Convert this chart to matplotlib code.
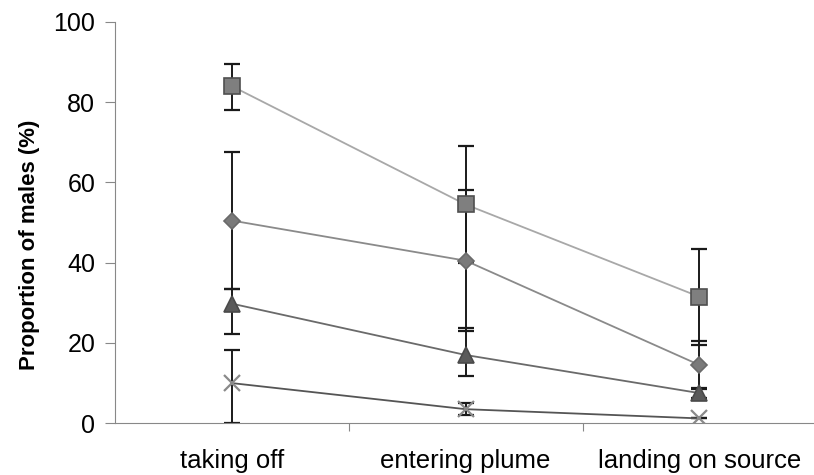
import numpy as np
import matplotlib.pyplot as plt

plt.rcParams['font.family'] = ['Liberation Sans', 'DejaVu Sans']

# flight stages and response proportions per treatment
stages = ['taking off', 'entering plume', 'landing on source']

sq_vals = [84.0, 54.5, 31.5]
sq_lo = [6.0, 14.5, 12.0]
sq_hi = [5.5, 14.5, 12.0]

dia_vals = [50.5, 40.5, 14.5]
dia_lo = [17.0, 17.5, 6.0]
dia_hi = [17.0, 17.5, 6.0]

tri_vals = [29.8, 17.0, 7.5]
tri_lo = [7.6, 5.3, 1.2]
tri_hi = [3.6, 6.7, 1.2]

x_vals = [10.0, 3.5, 1.2]
x_lo = [10.0, 1.5, 0.0]
x_hi = [8.2, 1.5, 0.0]

fig = plt.figure(figsize=(8.14, 4.75), dpi=100)
ax = fig.add_axes([0.141, 0.109, 0.862, 0.845])

pos = np.arange(len(stages)) + 0.5

series = [
    (x_vals, x_lo, x_hi, 'x', '#555555', '#8a8a8a', '#8a8a8a', 12),
    (tri_vals, tri_lo, tri_hi, '^', '#6a6a6a', '#5a5a5a', '#4a4a4a', 11),
    (dia_vals, dia_lo, dia_hi, 'D', '#8a8a8a', '#7a7a7a', '#6a6a6a', 8.5),
    (sq_vals, sq_lo, sq_hi, 's', '#a8a8a8', '#7f7f7f', '#4f4f4f', 12),
]

for vals, lo, hi, mk, lc, fc, ec, ms in series:
    ax.errorbar(pos, vals, yerr=[lo, hi], fmt='none', ecolor='#1a1a1a',
                elinewidth=1.4, capsize=6, capthick=1.6, zorder=2)
    ax.plot(pos, vals, color=lc, linewidth=1.3, zorder=3)
    ax.plot(pos, vals, linestyle='none', marker=mk, markersize=ms,
            markerfacecolor=fc, markeredgecolor=ec, color=fc,
            markeredgewidth=1.2 if mk != 'x' else 1.6, zorder=4)

ax.set_xlim(0, 3)
ax.set_ylim(0, 100)
ax.set_yticks([0, 20, 40, 60, 80, 100])
ax.set_xticks([1, 2])
ax.set_xticklabels([])
for p, s in zip(pos, stages):
    ax.text(p, -6.3, s, ha='center', va='top', fontsize=18.5)

ax.spines['top'].set_visible(False)
ax.spines['right'].set_visible(False)
ax.spines['left'].set_color('#888888')
ax.spines['bottom'].set_color('#888888')
ax.tick_params(axis='y', labelsize=18, length=7, color='#888888', pad=7)
ax.tick_params(axis='x', length=6, color='#888888')

fig.text(0.036, 0.485, 'Proportion of males (%)', rotation=90, fontsize=16,
         fontweight='bold', ha='center', va='center')

fig.savefig('out.png', dpi=100)
